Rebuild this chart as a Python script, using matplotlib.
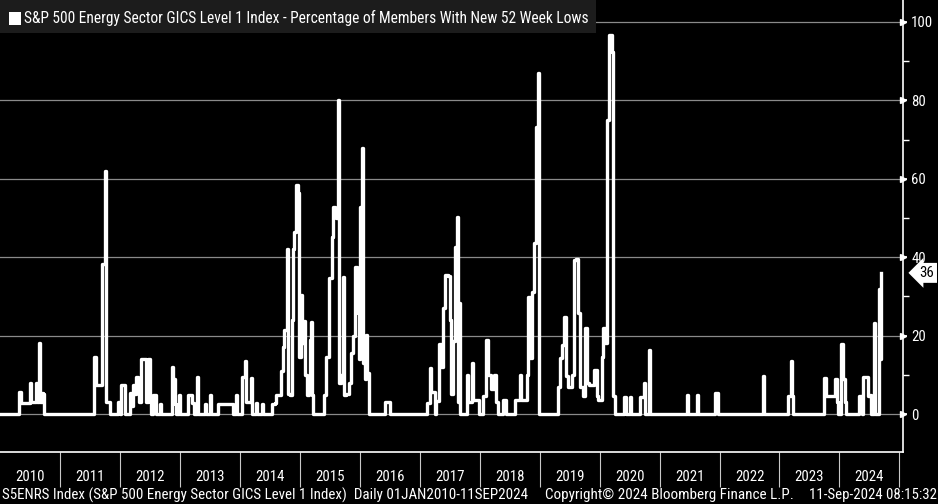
import matplotlib
matplotlib.use("Agg")
import matplotlib.pyplot as plt
import matplotlib.ticker as mticker
from matplotlib import font_manager as fm

# Time (decimal years) and percentage of members at new 52-week lows
t = [
    2010.000, 2010.300, 2010.325, 2010.350, 2010.450, 2010.500, 2010.525, 2010.567, 2010.600, 2010.625,
    2010.655, 2010.675, 2010.695, 2010.725, 2010.742,
    2011.551, 2011.572, 2011.601, 2011.667, 2011.706, 2011.751, 2011.773, 2011.818, 2011.834,
    2011.951, 2011.968, 2011.993, 2012.026, 2012.068, 2012.084, 2012.151, 2012.168, 2012.184, 2012.218,
    2012.243, 2012.268, 2012.301, 2012.326, 2012.359, 2012.418, 2012.443, 2012.473, 2012.501, 2012.526,
    2012.551, 2012.585, 2012.601, 2012.660, 2012.668, 2012.685,
    2012.843, 2012.863, 2012.885, 2012.918, 2012.935, 2012.985, 2012.993, 2013.010,
    2013.127, 2013.135, 2013.168, 2013.202, 2013.235, 2013.277, 2013.290, 2013.310,
    2013.402, 2013.418, 2013.443, 2013.493, 2013.502, 2013.527, 2013.627, 2013.635, 2013.869, 2013.894,
    2013.927, 2013.935, 2013.952, 2014.019, 2014.044, 2014.085, 2014.110, 2014.135, 2014.185, 2014.202,
    2014.260, 2014.269, 2014.285, 2014.361, 2014.369, 2014.386,
    2014.519, 2014.536, 2014.586, 2014.602, 2014.669, 2014.686, 2014.719, 2014.744, 2014.781, 2014.797,
    2014.836, 2014.877, 2014.891, 2014.907, 2014.936, 2014.964, 2014.991, 2015.019, 2015.044, 2015.074,
    2015.094, 2015.114, 2015.153, 2015.169, 2015.186, 2015.203, 2015.228,
    2015.386, 2015.403, 2015.444, 2015.491, 2015.531, 2015.558, 2015.586, 2015.611, 2015.641, 2015.661,
    2015.686, 2015.714, 2015.736, 2015.778, 2015.820, 2015.861, 2015.886, 2015.920, 2015.953, 2015.970,
    2015.986, 2016.003, 2016.041, 2016.061, 2016.086, 2016.103, 2016.125, 2016.148,
    2016.411, 2016.420, 2016.503, 2016.511,
    2017.112, 2017.120, 2017.170, 2017.195, 2017.237, 2017.254, 2017.270, 2017.325, 2017.362, 2017.387,
    2017.420, 2017.475, 2017.504, 2017.529, 2017.559, 2017.587, 2017.626, 2017.646, 2017.659, 2017.679,
    2017.771, 2017.787, 2017.812, 2017.837, 2017.866, 2017.887, 2017.971, 2017.987,
    2018.046, 2018.054, 2018.104, 2018.137, 2018.196, 2018.237, 2018.279, 2018.304,
    2018.387, 2018.396, 2018.437, 2018.446,
    2018.579, 2018.588, 2018.654, 2018.671, 2018.688, 2018.754, 2018.788, 2018.809, 2018.838, 2018.876,
    2018.909, 2018.938, 2018.966, 2018.993,
    2019.296, 2019.310, 2019.338, 2019.366, 2019.405, 2019.433, 2019.471, 2019.505, 2019.533, 2019.571,
    2019.605, 2019.643, 2019.671, 2019.716, 2019.755, 2019.793, 2019.827, 2019.867, 2019.910, 2019.950,
    2019.977, 2020.033, 2020.060, 2020.088, 2020.127, 2020.160, 2020.200, 2020.227, 2020.255,
    2020.405, 2020.413, 2020.438, 2020.447, 2020.497, 2020.505, 2020.522,
    2020.672, 2020.680, 2020.722, 2020.739, 2020.755, 2020.814, 2020.827, 2020.847,
    2021.439, 2021.451, 2021.472, 2021.481, 2021.606, 2021.617, 2021.639, 2021.647,
    2021.914, 2021.923, 2021.973, 2021.981,
    2022.711, 2022.728, 2022.745,
    2023.131, 2023.148, 2023.185, 2023.206, 2023.223,
    2023.724, 2023.740, 2023.774, 2023.890, 2023.924, 2023.957, 2023.974, 2024.019, 2024.057, 2024.090,
    2024.115,
    2024.307, 2024.324, 2024.357, 2024.374, 2024.391, 2024.452, 2024.474, 2024.507, 2024.524,
    2024.557, 2024.579, 2024.599, 2024.624, 2024.660, 2024.672, 2024.692,
]
pct = [
    0, 0, 5.6, 2.8, 2.8, 8.0, 3.0, 3.0, 8.0, 3.0,
    18.1, 3.0, 5.4, 5.0, 0,
    0, 14.6, 7.4, 7.4, 38.3, 62.0, 3.0, 3.0, 0,
    0, 3.0, 0, 7.4, 7.4, 0, 0, 5.3, 2.0, 7.4,
    5.0, 9.5, 7.4, 3.0, 14.0, 14.0, 3.0, 14.0, 3.0, 0,
    4.8, 4.8, 0, 0, 2.6, 0,
    0, 12.0, 9.0, 2.6, 0, 0, 4.8, 0,
    0, 4.8, 4.8, 2.7, 0, 0, 9.5, 0,
    0, 2.6, 0, 0, 4.8, 0, 0, 2.6, 2.6, 0,
    0, 4.8, 0, 0, 9.5, 13.6, 3.0, 3.0, 9.3, 0,
    0, 2.7, 0, 0, 2.6, 0,
    0, 2.6, 2.8, 4.8, 4.8, 11.0, 17.0, 21.4, 42.0, 5.0,
    4.8, 24.0, 42.0, 46.5, 58.4, 56.3, 14.6, 30.4, 18.0, 23.6,
    10.0, 4.8, 8.0, 18.9, 23.5, 4.8, 0,
    0, 4.8, 14.6, 34.6, 45.2, 52.9, 50.8, 50.0, 80.1, 7.9,
    10.0, 35.0, 4.8, 5.0, 7.9, 15.5, 20.0, 37.6, 32.5, 25.7,
    14.0, 52.9, 67.8, 13.0, 9.0, 20.2, 10.4, 0,
    0, 3.1, 3.1, 0,
    0, 2.8, 11.8, 5.7, 5.7, 0, 3.3, 17.9, 12.0, 27.0,
    35.5, 35.2, 24.0, 5.0, 18.5, 42.7, 50.3, 3.0, 28.2, 0,
    0, 10.0, 3.0, 3.0, 12.9, 3.6, 3.6, 0,
    0, 4.7, 18.9, 10.0, 6.5, 10.0, 3.0, 0,
    0, 3.6, 3.6, 0,
    0, 3.6, 3.6, 10.0, 3.6, 3.6, 10.0, 29.9, 14.3, 31.2,
    43.5, 73.3, 86.9, 0,
    0, 7.0, 14.3, 17.6, 24.8, 9.7, 7.0, 7.0, 10.0, 39.3,
    39.6, 25.7, 7.0, 4.5, 21.9, 8.0, 7.5, 7.5, 11.2, 4.5,
    3.6, 14.6, 22.0, 18.0, 75.0, 96.7, 92.4, 4.5, 0,
    0, 4.3, 4.3, 0, 0, 4.3, 0,
    0, 4.3, 4.3, 8.0, 0, 0, 16.3, 0,
    0, 4.8, 4.8, 0, 0, 4.8, 4.8, 0,
    0, 5.3, 5.3, 0,
    0, 9.7, 0,
    0, 4.5, 13.4, 4.5, 0,
    0, 9.1, 4.5, 4.5, 9.0, 3.0, 0, 17.8, 9.0, 3.0,
    0,
    0, 4.5, 4.5, 0, 9.5, 9.5, 4.5, 4.8, 0,
    0, 23.1, 0, 0, 32.0, 14.0, 36.0,
]
last_value = 36

years = list(range(2010, 2025))
y_major = [0, 20, 40, 60, 80, 100]
y_minor = [10, 30, 50, 70, 90]

title = "S&P 500 Energy Sector GICS Level 1 Index - Percentage of Members With New 52 Week Lows"
footer_left = "S5ENRS Index (S&P 500 Energy Sector GICS Level 1 Index)  Daily 01JAN2010-11SEP2024"
footer_mid = "Copyright\u00a9 2024 Bloomberg Finance L.P."
footer_right = "11-Sep-2024 08:15:32"

# ---- pick a narrow sans face if available ----
installed = fm.fontManager.ttflist
names = {f.name for f in installed}
family = None
stretch = "normal"
for cand in ["Liberation Sans Narrow", "Roboto Condensed", "Open Sans Condensed", "DejaVu Sans Condensed"]:
    if cand in names:
        family = cand
        break
if family is None:
    for f in installed:
        if f.name in ("DejaVu Sans", "Roboto", "Open Sans", "Noto Sans") and str(f.stretch) in (
                "condensed", "semi-condensed", "75", "87.5", "ultra-condensed", "extra-condensed"):
            family = f.name
            stretch = "condensed"
            break
if family is None:
    family = "Liberation Sans" if "Liberation Sans" in names else "DejaVu Sans"
plt.rcParams['font.family'] = [family, 'DejaVu Sans']
plt.rcParams['font.stretch'] = stretch

W, H = 938, 504
fig = plt.figure(figsize=(W / 100, H / 100), dpi=100, facecolor="black")
ax = fig.add_axes([0, (H - 452) / H, 903 / W, 452 / H])
ax.set_facecolor("black")

ax.plot(t, pct, color="white", lw=2.4, drawstyle="steps-post", zorder=3)

ax.set_xlim(2010.0, 2025.06)
ax.set_ylim(-9.69, 105.6)

for s in ["left", "top"]:
    ax.spines[s].set_visible(False)
ax.spines["right"].set_color("white")
ax.spines["bottom"].set_color("white")
ax.spines["right"].set_linewidth(1.2)
ax.spines["bottom"].set_linewidth(1.2)

renderer = fig.canvas.get_renderer()


def fit_size(txt_str, target_px, base=10.0):
    tmp = fig.text(0.5, 0.5, txt_str, fontsize=base)
    w = tmp.get_window_extent(renderer).width
    tmp.remove()
    return base * target_px / w


foot_fs = fit_size(footer_right, 127)
tick_fs = foot_fs
ytick_fs = foot_fs

# y axis on the right
ax.yaxis.tick_right()
ax.yaxis.set_major_locator(mticker.FixedLocator(y_major))
ax.yaxis.set_minor_locator(mticker.FixedLocator(y_minor))
ax.yaxis.set_major_formatter(mticker.FormatStrFormatter("%d"))
ax.tick_params(axis="y", which="major", colors="white", labelsize=ytick_fs, length=3, width=1.2,
               direction="out", pad=3)
ax.tick_params(axis="y", which="minor", colors="white", length=4, width=1.0, direction="out")
ax.grid(axis="y", which="major", color="#8a8a8a", lw=0.9)
for yv in y_major:
    ax.plot([1.0], [yv], marker=">", ms=5, color="white", transform=ax.get_yaxis_transform(),
            clip_on=False, zorder=5)

# x axis: year separators and centered labels
ax.xaxis.set_major_locator(mticker.FixedLocator([y + 1 for y in years]))
ax.xaxis.set_major_formatter(mticker.NullFormatter())
ax.xaxis.set_minor_locator(mticker.FixedLocator([y + 0.5 for y in years]))
ax.xaxis.set_minor_formatter(mticker.FixedFormatter([str(y) for y in years]))
ax.tick_params(axis="x", which="major", colors="#c8c8c8", length=25, width=0.8, direction="out")
ax.tick_params(axis="x", which="minor", colors="white", length=0, labelsize=tick_fs, pad=13)

# title box
fig.patches.append(plt.Rectangle((0, 1 - 33 / H), 596 / W, 33 / H, transform=fig.transFigure,
                                 facecolor="#1c1c1c", edgecolor="none", zorder=9))
fig.patches.append(plt.Rectangle((9 / W, 1 - 25 / H), 12 / W, 13 / H, transform=fig.transFigure,
                                 facecolor="white", edgecolor="none", zorder=10))
fig.text(24 / W, 1 - 18 / H, title, color="white", fontsize=fit_size(title, 566), va="center",
         ha="left", zorder=11)

# last value label
ax.annotate(f"{last_value}", xy=(1.0, last_value), xycoords=ax.get_yaxis_transform(),
            xytext=(1.018, last_value), textcoords=ax.get_yaxis_transform(),
            color="black", fontsize=ytick_fs, va="center", ha="left",
            bbox=dict(boxstyle="larrow,pad=0.2", facecolor="white", edgecolor="none"))

fy = 1 - 495 / H
fig.text(2 / W, fy, footer_left, color="white", fontsize=fit_size(footer_left, 524), va="center",
         ha="left")
fig.text(545 / W, fy, footer_mid, color="white", fontsize=fit_size(footer_mid, 248), va="center",
         ha="left")
fig.text(937 / W, fy, footer_right, color="white", fontsize=foot_fs,
         va="center", ha="right")

fig.savefig("out.png", dpi=100, facecolor="black")
